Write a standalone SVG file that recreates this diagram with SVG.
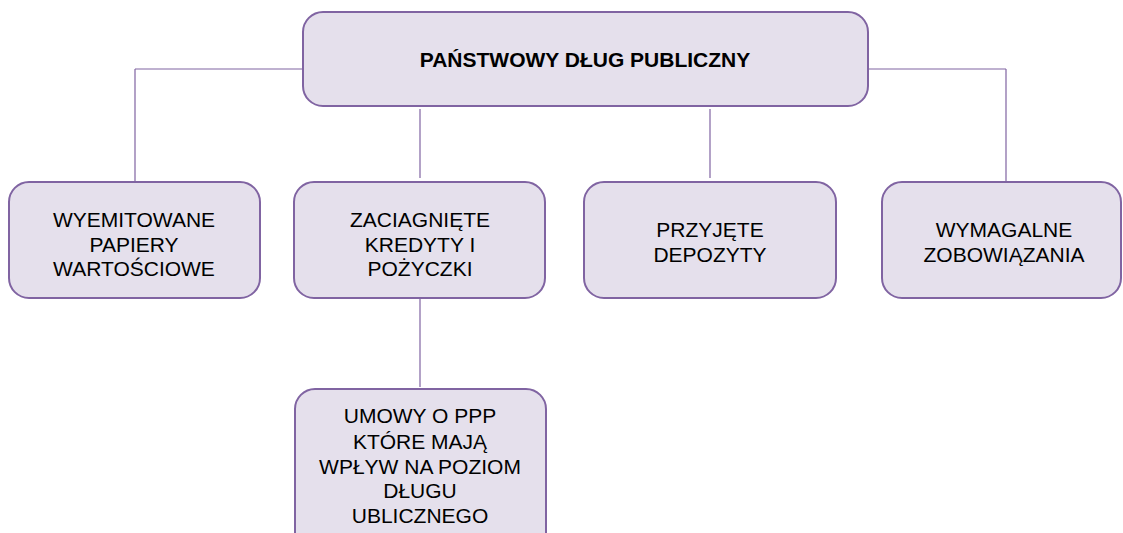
<svg xmlns="http://www.w3.org/2000/svg" width="1123" height="533" viewBox="0 0 1123 533">
<style>
.box{fill:#E5E0EC;stroke:#8064A2;stroke-width:2}
.ln{stroke:#8064A2;stroke-width:1.2;fill:none}
.t{font-family:"Liberation Sans",Arial,sans-serif;font-size:21px;fill:#000;text-anchor:middle}
.b{font-weight:bold;font-size:21px}
</style>
<rect width="1123" height="533" fill="#fff"/>
<g id="connectors">
<path class="ln" d="M135,69 H303 M868,69 H1006 M135,69 V182 M1006,69 V182 M420,109 V178 M710,109 V178 M420,298 V387"/>
</g>
<g id="root"><rect class="box" x="303" y="12" width="565" height="94" rx="20"/>
<text class="t b" x="585" y="67">PAŃSTWOWY DŁUG PUBLICZNY</text></g>
<g id="n1"><rect class="box" x="9" y="182" width="251" height="116" rx="20"/>
<text class="t" x="134" y="227">WYEMITOWANE</text><text class="t" x="134" y="252">PAPIERY</text><text class="t" x="134" y="276">WARTOŚCIOWE</text></g>
<g id="n2"><rect class="box" x="294" y="182" width="251" height="116" rx="20"/>
<text class="t" x="420" y="227">ZACIAGNIĘTE</text><text class="t" x="420" y="252">KREDYTY I</text><text class="t" x="420" y="276">POŻYCZKI</text></g>
<g id="n3"><rect class="box" x="584" y="182" width="252" height="116" rx="20"/>
<text class="t" x="710" y="237">PRZYJĘTE</text><text class="t" x="710" y="262">DEPOZYTY</text></g>
<g id="n4"><rect class="box" x="882" y="182" width="239" height="116" rx="20"/>
<text class="t" x="1004" y="237">WYMAGALNE</text><text class="t" x="1004" y="262">ZOBOWIĄZANIA</text></g>
<g id="n5"><rect class="box" x="295" y="389" width="251" height="170" rx="20"/>
<text class="t" x="420" y="423">UMOWY O PPP</text><text class="t" x="420" y="449">KTÓRE MAJĄ</text><text class="t" x="420" y="474">WPŁYW NA POZIOM</text><text class="t" x="420" y="498">DŁUGU</text><text class="t" x="420" y="523">UBLICZNEGO</text></g>
</svg>
